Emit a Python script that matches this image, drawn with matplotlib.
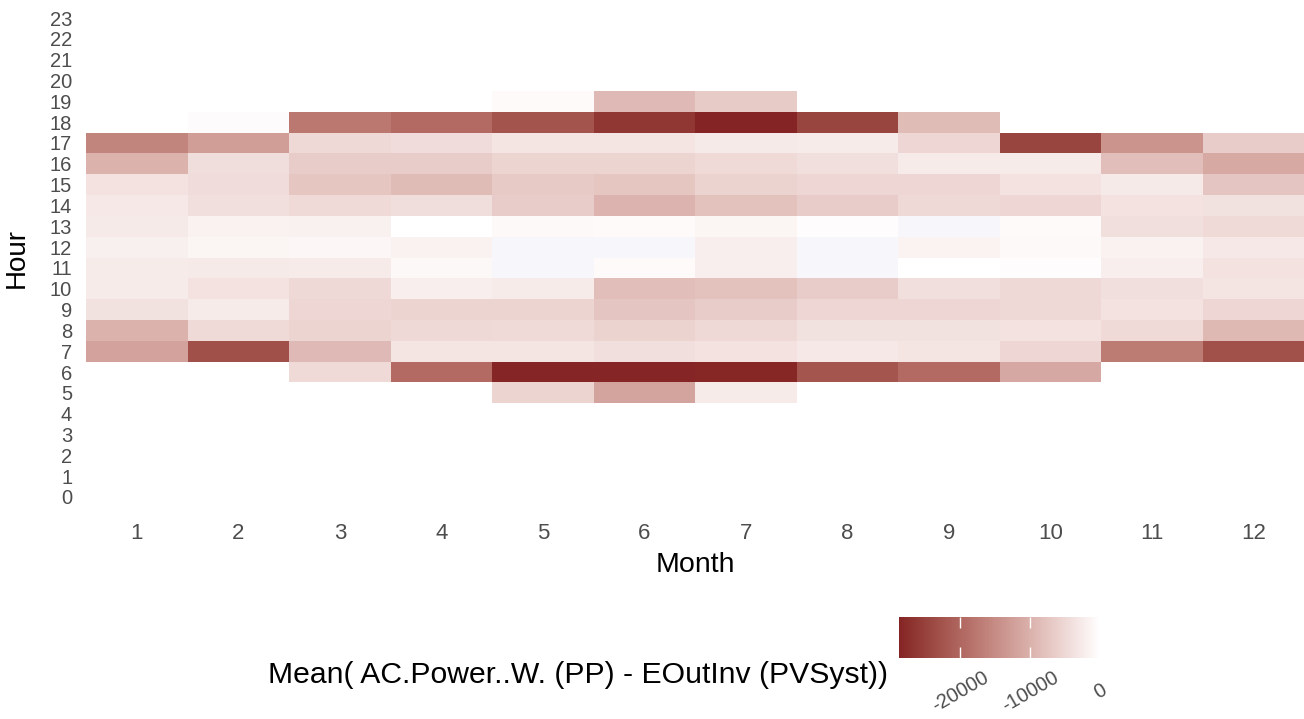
import numpy as np
import matplotlib
matplotlib.use("Agg")
import matplotlib.pyplot as plt
from matplotlib.colors import ListedColormap, Normalize, to_rgb

plt.rcParams["font.family"] = ["Liberation Sans", "DejaVu Sans"]

# Mean difference AC.Power..W. (PP) - EOutInv (PVSyst), by month and hour.
# Each list starts at first_hour[month-1] and runs upward one hour per entry.
months = list(range(1, 13))
hours = list(range(24))
first_hour = [7, 7, 6, 6, 5, 5, 5, 6, 6, 6, 7, 7]

jan = [-11900, -9900, -3800, -2500, -2500, -2000, -2600, -3000, -3600, -9900, -15900]
feb = [-23200, -4600, -2500, -3600, -2800, -1300, -1600, -4100, -4400, -4200, -12600, -500]
mar = [-4600, -8900, -5400, -5200, -4900, -2500, -1100, -1900, -4600, -7300, -6500,
       -4900, -17600]
apr = [-19400, -3300, -4900, -5400, -2200, -900, -1600, 0, -4200, -8600, -6500,
       -4400, -19400]
may = [-5400, -28500, -3300, -4600, -5400, -2500, 100, 150, -800, -6500, -6900,
       -5400, -3300, -22500, -700]
jun = [-11800, -28500, -4100, -5700, -7500, -8300, -700, 50, -700, -9700, -7300,
       -5400, -3300, -26300, -8900]
jul = [-2500, -28300, -3600, -4900, -6500, -7800, -2200, -2200, -1300, -7800, -5700,
       -4600, -2800, -28700, -6700]
aug = [-22400, -3000, -3800, -5200, -6500, 50, 100, -400, -6500, -5200, -4100,
       -2500, -24500]
sep = [-19400, -3300, -3800, -5200, -4100, -100, -1500, 150, -4900, -5200, -2500,
       -5200, -8600]
oct_ = [-11200, -5200, -3600, -4900, -4900, -400, -800, -700, -5200, -3600, -2500,
        -24500]
nov = [-17100, -4600, -3600, -4100, -2200, -1700, -4100, -3600, -2800, -8300, -13900]
dec = [-22900, -9100, -5200, -3300, -3600, -3000, -4600, -3800, -7500, -11000, -6500]

by_month = [jan, feb, mar, apr, may, jun, jul, aug, sep, oct_, nov, dec]

grid = np.full((len(hours), len(months)), np.nan)
for j, (start, vals) in enumerate(zip(first_hour, by_month)):
    grid[start:start + len(vals), j] = vals
grid = np.ma.masked_invalid(grid)


# gradient interpolated in CIE Lab, like ggplot's scale_fill_gradient
_M = np.array([[0.4124, 0.3576, 0.1805],
               [0.2126, 0.7152, 0.0722],
               [0.0193, 0.1192, 0.9505]])
_WHITE = np.array([0.95047, 1.0, 1.08883])


def to_lab(rgb):
    c = np.asarray(rgb, float)
    lin = np.where(c <= 0.04045, c / 12.92, ((c + 0.055) / 1.055) ** 2.4)
    xyz = (_M @ lin) / _WHITE
    f = np.where(xyz > 0.008856, np.cbrt(xyz), 7.787 * xyz + 16 / 116)
    return np.array([116 * f[1] - 16, 500 * (f[0] - f[1]), 200 * (f[1] - f[2])])


def from_lab(lab):
    L, a, b = lab.T
    fy = (L + 16) / 116
    f = np.stack([fy + a / 500, fy, fy - b / 200], axis=-1)
    xyz = np.where(f ** 3 > 0.008856, f ** 3, (f - 16 / 116) / 7.787) * _WHITE
    lin = xyz @ np.linalg.inv(_M).T
    lin = np.clip(lin, 0, 1)
    return np.where(lin <= 0.0031308, 12.92 * lin, 1.055 * lin ** (1 / 2.4) - 0.055)


low, high = to_lab(to_rgb("#842424")), to_lab(to_rgb("#ffffff"))
t = np.linspace(0, 1, 256)[:, None]
cmap = ListedColormap(np.clip(from_lab(low + (high - low) * t), 0, 1))
cmap.set_over("#f7f7fb")
cmap.set_bad((1, 1, 1, 0))
norm = Normalize(vmin=-28700, vmax=0)

fig = plt.figure(figsize=(13.04, 7.19), dpi=100)
ax = fig.add_axes([0.066, 0.2943, 0.934, 0.6951])

x_edges = np.arange(0.5, 13.5, 1.0)
y_edges = np.arange(-0.5, 24.5, 1.0)
mesh = ax.pcolormesh(x_edges, y_edges, grid, cmap=cmap, norm=norm, shading="flat")

ax.set_xlim(0.5, 12.5)
ax.set_ylim(-0.5, 23.5)
ax.set_xticks(months)
ax.set_yticks(hours)
ax.tick_params(axis="both", length=0, colors="#4d4d4d")
ax.tick_params(axis="x", labelsize=16, pad=11)
ax.tick_params(axis="y", labelsize=14.5, pad=10)
for s in ax.spines.values():
    s.set_visible(False)
ax.set_xlabel("Month", fontsize=20.5, labelpad=6)
ax.set_ylabel("Hour", fontsize=20)
ax.yaxis.set_label_coords(-0.046, 0.5)

# colour bar underneath, ggplot style
cax = fig.add_axes([899 / 1304, 1 - 658 / 719, 201 / 1304, 41 / 719])
cb = fig.colorbar(mesh, cax=cax, orientation="horizontal", ticks=[-20000, -10000, 0])
cb.outline.set_visible(False)
cax.tick_params(axis="x", direction="in", color="white", length=8, width=1,
                top=True, bottom=True, labelcolor="#4d4d4d", labelsize=14.5, pad=24)
cb.set_ticklabels(["-20000", "-10000", "0"])
for lab in cax.get_xticklabels():
    lab.set_rotation(30)
    lab.set_ha("center")
    lab.set_va("center")

fig.text(888 / 1304, 1 - 675 / 719, "Mean( AC.Power..W. (PP) - EOutInv (PVSyst))",
         ha="right", va="center", fontsize=21.7, color="black")

fig.savefig("out.png", dpi=100)
